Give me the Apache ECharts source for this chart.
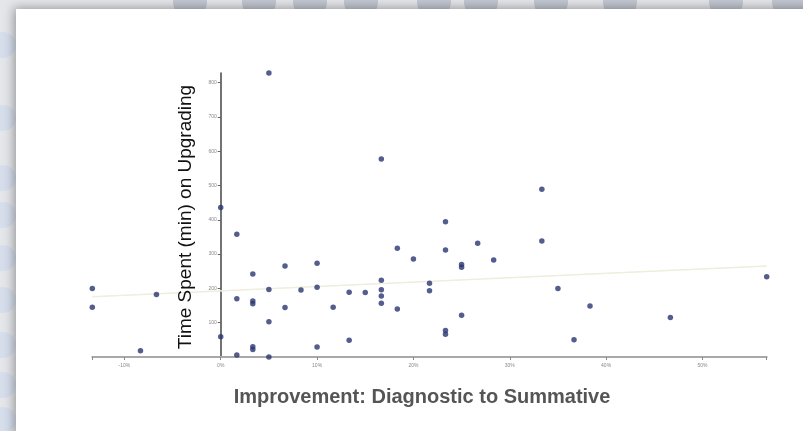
<!DOCTYPE html>
<html><head><meta charset="utf-8">
<script src="https://cdn.jsdelivr.net/npm/echarts@6/dist/echarts.min.js"></script>
<style>html,body{margin:0;padding:0;background:#e4e6ea;overflow:hidden}#c{width:803px;height:431px}</style>
</head><body><div id="c"></div>
<script>
// Improvement (%) and time spent (min) for each student
const improvement = [
  -13.33, -13.33, -8.33, -6.67,
  0, 0,
  1.67, 1.67, 1.67,
  3.33, 3.33, 3.33, 3.33, 3.33,
  5, 5, 5, 5,
  6.67, 6.67,
  8.33,
  10, 10, 10,
  11.67,
  13.33, 13.33,
  15,
  16.67, 16.67, 16.67, 16.67, 16.67,
  18.33, 18.33,
  20,
  21.67, 21.67,
  23.33, 23.33, 23.33, 23.33,
  25, 25, 25,
  26.67,
  28.33,
  33.33, 33.33,
  35, 36.67, 38.33, 46.67, 56.67
];
const timeSpent = [
  200, 145, 18, 182,
  436, 59,
  358, 170, 6,
  242, 163, 155, 30, 22,
  828, 197, 103, 0,
  265, 144,
  195,
  273, 203, 29,
  145,
  189, 49,
  188,
  577, 224, 196, 178, 157,
  317, 140,
  286,
  215, 193,
  394, 312, 77, 66,
  270, 262, 122,
  332,
  283,
  489, 338,
  200, 50, 149, 115, 234
];
const trendX = [-13.33, 56.67];
const trendY = [176, 265];
const xTickLabels = [-10, 0, 10, 20, 30, 40, 50];
const xTickMarks = [-13.33, -10, 0, 10, 20, 30, 40, 50, 56.67];
const yTickLabels = [100, 200, 300, 400, 500, 600, 700, 800];
const xTitle = 'Improvement: Diagnostic to Summative';
const yTitle = 'Time Spent (min) on Upgrading';

const points = improvement.map((x, i) => [x, timeSpent[i]]);
const trend = trendX.map((x, i) => [x, trendY[i]]);

const gridLeft = 92.3, gridRight = 36.3;
const xMin = -13.33, xMax = 56.67;
const plotW = 803 - gridLeft - gridRight;
// shift y axis so that it sits on x = 0
const yAxisOffset = -(0 - xMin) / (xMax - xMin) * plotW;

const chart = echarts.init(document.getElementById('c'));

// decorative page background
const deco = [];
const topCircles = [190, 259, 310, 361, 434, 481, 551, 620, 726, 789];
topCircles.forEach(cx => deco.push({type:'circle', shape:{cx:cx, cy:2, r:17}, style:{fill:'#c2c7d1'}, z:-10}));
const leftCircles = [45, 118, 178, 215, 258, 300, 345, 385, 420];
leftCircles.forEach(cy => deco.push({type:'circle', shape:{cx:3, cy:cy, r:13}, style:{fill:'#d6deec'}, z:-10}));
deco.push({type:'rect', shape:{x:16, y:9, width:800, height:430},
  style:{fill:'#ffffff', shadowBlur:10, shadowColor:'rgba(0,0,0,0.35)', shadowOffsetX:-2, shadowOffsetY:-1}, z:-5});
deco.push({type:'text', x:186, y:217, rotation:Math.PI/2,
  style:{text:yTitle, fill:'#111', font:'19px "Liberation Sans", Arial, sans-serif', align:'center', verticalAlign:'middle'}, z:5});
deco.push({type:'text', x:422, y:397,
  style:{text:xTitle, fill:'#555', font:'bold 20px "Liberation Sans", Arial, sans-serif', align:'center', verticalAlign:'middle'}, z:5});

chart.setOption({
  backgroundColor: '#e4e6ea',
  animation: false,
  graphic: deco,
  grid: {left: gridLeft, right: gridRight, top: 73, bottom: 74},
  xAxis: {
    type: 'value', min: xMin, max: xMax,
    axisLine: {onZero: false, lineStyle: {color: '#a8a8a8', width: 2}},
    axisTick: {show: true, length: 3, customValues: xTickMarks, lineStyle: {color: '#888'}},
    axisLabel: {customValues: xTickLabels, formatter: '{value}%', fontSize: 5, color: '#888', margin: 6},
    splitLine: {show: false}
  },
  yAxis: {
    type: 'value', min: 0, max: 828, offset: yAxisOffset,
    axisLine: {show: true, onZero: false, lineStyle: {color: '#444', width: 1.5}},
    axisTick: {show: true, length: 3, customValues: yTickLabels, lineStyle: {color: '#666'}},
    axisLabel: {customValues: yTickLabels, fontSize: 5, color: '#888', margin: 4},
    splitLine: {show: false}
  },
  series: [
    {
      type: 'line', data: trend, symbol: 'none', silent: true,
      lineStyle: {color: '#efeddc', width: 1.5}, z: 1
    },
    {
      type: 'scatter', data: points, symbolSize: 5.5,
      itemStyle: {color: '#283472'}, z: 3
    }
  ]
});
</script>
</body></html>
